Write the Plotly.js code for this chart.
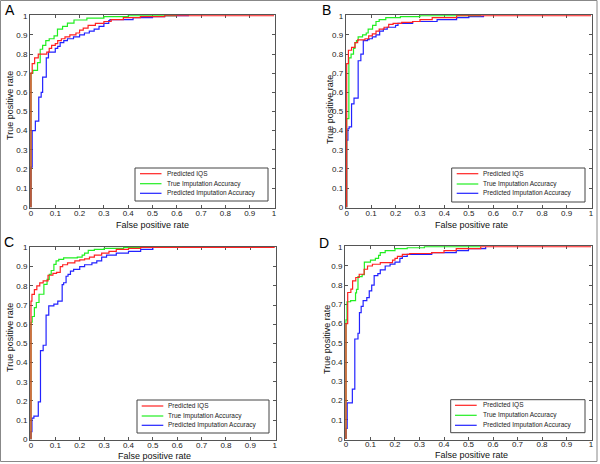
<!DOCTYPE html>
<html>
<head>
<meta charset="utf-8">
<script src="https://cdn.plot.ly/plotly-3.0.1.min.js"></script>
<style>
html,body{margin:0;padding:0;background:#fff;}
#chart{width:600px;height:464px;}
</style>
</head>
<body>
<div id="chart"></div>
<script>
// ---- data ----
const seriesNames = ['Predicted IQS', 'True Imputation Accuracy', 'Predicted Imputation Accuracy'];
const panelLabels = ['A', 'B', 'C', 'D'];
const xTitle = 'False positive rate';
const yTitle = 'True positive rate';

// Panel A
const fprA_iqs = [0, 0, 0.005, 0.015, 0.03, 0.065, 0.075, 0.085, 0.1, 0.11, 0.125, 0.14, 0.16, 0.185, 0.2, 0.215, 0.235, 0.265, 0.3, 0.33, 0.38, 0.45, 0.55, 1];
const tprA_iqs = [0, 0.70, 0.75, 0.78, 0.80, 0.81, 0.83, 0.845, 0.855, 0.87, 0.88, 0.89, 0.90, 0.91, 0.925, 0.935, 0.95, 0.96, 0.97, 0.98, 0.99, 0.995, 1.0, 1.0];
const fprA_true = [0, 0, 0.008, 0.027, 0.038, 0.048, 0.061, 0.075, 0.095, 0.109, 0.13, 0.15, 0.177, 0.23, 0.3, 0.4, 0.6];
const tprA_true = [0, 0.70, 0.715, 0.755, 0.825, 0.845, 0.87, 0.88, 0.895, 0.93, 0.945, 0.962, 0.978, 0.988, 0.995, 1.0, 1.0];
const fprA_pred = [0, 0, 0.005, 0.018, 0.032, 0.042, 0.048, 0.063, 0.072, 0.1, 0.11, 0.12, 0.135, 0.15, 0.175, 0.2, 0.22, 0.24, 0.26, 0.28, 0.3, 0.32, 0.325, 0.42, 0.5, 0.55, 0.65];
const tprA_pred = [0, 0.21, 0.40, 0.45, 0.575, 0.60, 0.68, 0.78, 0.81, 0.83, 0.84, 0.86, 0.87, 0.88, 0.89, 0.90, 0.91, 0.92, 0.93, 0.945, 0.96, 0.975, 0.98, 0.99, 0.995, 1.0, 1.0];

// Panel B
const fprB_iqs = [0, 0, 0.007, 0.02, 0.034, 0.045, 0.075, 0.09, 0.105, 0.12, 0.133, 0.153, 0.172, 0.19, 0.225, 0.27, 0.3, 0.35, 0.45, 1];
const tprB_iqs = [0, 0.75, 0.82, 0.835, 0.86, 0.874, 0.88, 0.895, 0.905, 0.92, 0.93, 0.94, 0.955, 0.96, 0.965, 0.97, 0.98, 0.99, 1.0, 1.0];
const fprB_true = [0, 0, 0.009, 0.018, 0.028, 0.034, 0.04, 0.047, 0.065, 0.08, 0.088, 0.106, 0.12, 0.133, 0.16, 0.22, 0.3, 0.55];
const tprB_true = [0, 0.463, 0.78, 0.80, 0.83, 0.86, 0.87, 0.89, 0.90, 0.91, 0.93, 0.95, 0.97, 0.98, 0.99, 0.995, 1.0, 1.0];
const fprB_pred = [0, 0, 0.005, 0.01, 0.02, 0.03, 0.047, 0.058, 0.068, 0.085, 0.092, 0.105, 0.12, 0.135, 0.15, 0.166, 0.2, 0.21, 0.27, 0.37, 0.45, 0.5, 0.56];
const tprB_pred = [0, 0.35, 0.41, 0.42, 0.54, 0.57, 0.765, 0.80, 0.87, 0.875, 0.88, 0.89, 0.90, 0.92, 0.93, 0.94, 0.95, 0.96, 0.97, 0.98, 0.99, 0.995, 1.0];

// Panel C
const fprC_iqs = [0, 0, 0.004, 0.014, 0.024, 0.036, 0.05, 0.07, 0.09, 0.105, 0.12, 0.13, 0.15, 0.18, 0.2, 0.22, 0.24, 0.26, 0.29, 0.32, 0.35, 0.4, 0.45, 1];
const tprC_iqs = [0, 0.72, 0.755, 0.78, 0.80, 0.815, 0.826, 0.855, 0.865, 0.87, 0.9, 0.91, 0.92, 0.93, 0.935, 0.94, 0.95, 0.96, 0.97, 0.98, 0.99, 0.995, 1, 1];
const fprC_true = [0, 0, 0.005, 0.014, 0.022, 0.033, 0.053, 0.066, 0.075, 0.083, 0.094, 0.103, 0.114, 0.134, 0.19, 0.21, 0.22, 0.235, 0.26, 0.3, 0.38, 0.62];
const tprC_true = [0, 0.61, 0.64, 0.686, 0.713, 0.756, 0.808, 0.834, 0.86, 0.88, 0.912, 0.93, 0.938, 0.946, 0.95, 0.96, 0.97, 0.985, 0.99, 0.995, 1.0, 1.0];
const fprC_pred = [0, 0, 0.004, 0.012, 0.03, 0.039, 0.05, 0.062, 0.073, 0.094, 0.11, 0.128, 0.134, 0.144, 0.152, 0.162, 0.175, 0.2, 0.22, 0.25, 0.27, 0.29, 0.31, 0.35, 0.4, 0.45, 0.5];
const tprC_pred = [0, 0.04, 0.11, 0.12, 0.195, 0.462, 0.49, 0.647, 0.695, 0.705, 0.72, 0.806, 0.816, 0.85, 0.86, 0.877, 0.886, 0.90, 0.91, 0.92, 0.93, 0.95, 0.96, 0.97, 0.98, 0.99, 1.0];

// Panel D
const fprD_iqs = [0, 0, 0.007, 0.02, 0.027, 0.04, 0.054, 0.074, 0.088, 0.108, 0.14, 0.19, 0.2, 0.21, 0.23, 0.26, 0.35, 0.4, 0.45, 0.55, 1];
const tprD_iqs = [0, 0.60, 0.762, 0.78, 0.823, 0.84, 0.857, 0.883, 0.90, 0.909, 0.917, 0.93, 0.94, 0.95, 0.96, 0.965, 0.97, 0.98, 0.99, 1.0, 1.0];
const fprD_true = [0, 0, 0.004, 0.019, 0.039, 0.043, 0.049, 0.066, 0.075, 0.1, 0.12, 0.133, 0.14, 0.16, 0.2, 0.25, 0.32, 0.55];
const tprD_true = [0, 0.62, 0.714, 0.72, 0.76, 0.778, 0.845, 0.855, 0.92, 0.93, 0.94, 0.955, 0.97, 0.98, 0.99, 0.995, 1.0, 1.0];
const fprD_pred = [0, 0, 0.005, 0.026, 0.036, 0.049, 0.055, 0.062, 0.07, 0.085, 0.095, 0.105, 0.115, 0.13, 0.14, 0.16, 0.18, 0.2, 0.22, 0.23, 0.25, 0.35, 0.45, 0.5, 0.57];
const tprD_pred = [0, 0.055, 0.188, 0.259, 0.52, 0.55, 0.657, 0.69, 0.72, 0.735, 0.77, 0.80, 0.85, 0.86, 0.88, 0.90, 0.91, 0.92, 0.94, 0.95, 0.96, 0.97, 0.98, 0.99, 1.0];

// ---- layout geometry (pixels in the 600x464 page) ----
const W = 600, H = 464;
const px = v => v / W;
const py = v => 1 - v / H;
const FONT = 'Liberation Sans, Arial, Helvetica, sans-serif';
const colors = ['#ff2222', '#22ee22', '#2222ff'];

const panels = [
  {l: 30,    r: 275,   t: 15,    b: 208,   lab: [9.5, 10],  yt: [10, 106],  xt: [152, 225],  leg: {x0: 135, x1: 268, y0: 168, y1: 201, lx0: 140, lx1: 161.5, tx: 164.5, rows: [173.7, 183.7, 193.3]}},
  {l: 345.7, r: 592,   t: 15,    b: 208,   lab: [326, 10],  yt: [330, 110], xt: [471, 225],  leg: {x0: 451.7, x1: 585, y0: 168, y1: 202, lx0: 456.7, lx1: 478.3, tx: 480.5, rows: [173.7, 184, 193.3]}},
  {l: 30,    r: 275.7, t: 246.7, b: 440,   lab: [9, 242],   yt: [10, 338],  xt: [154.5, 456], leg: {x0: 137, x1: 269, y0: 400, y1: 433, lx0: 141.7, lx1: 163.3, tx: 166, rows: [406, 416, 425.3]}},
  {l: 345,   r: 592,   t: 246,   b: 439.7, lab: [323.5, 243], yt: [327, 340], xt: [471.5, 455], leg: {x0: 450.7, x1: 585, y0: 399.7, y1: 432.7, lx0: 455, lx1: 476.7, tx: 480.5, rows: [405.3, 415.3, 425.3]}}
];

const fprs = [[fprA_iqs, fprA_true, fprA_pred], [fprB_iqs, fprB_true, fprB_pred], [fprC_iqs, fprC_true, fprC_pred], [fprD_iqs, fprD_true, fprD_pred]];
const tprs = [[tprA_iqs, tprA_true, tprA_pred], [tprB_iqs, tprB_true, tprB_pred], [tprC_iqs, tprC_true, tprC_pred], [tprD_iqs, tprD_true, tprD_pred]];

const traces = [];
const layout = {
  width: W, height: H,
  margin: {l: 0, r: 0, t: 0, b: 0, pad: 0},
  paper_bgcolor: '#fff', plot_bgcolor: '#fff',
  showlegend: false,
  shapes: [], annotations: []
};

function axisCommon() {
  return {
    range: [-0.004, 1.004], tick0: 0, dtick: 0.1,
    ticks: 'inside', ticklen: 3, tickwidth: 1, tickcolor: '#555',
    showline: true, linecolor: '#555', linewidth: 1, mirror: 'ticks',
    showgrid: false, zeroline: false, fixedrange: true,
    tickfont: {family: FONT, size: 8, color: '#222'},
    layer: 'below traces'
  };
}

panels.forEach((p, i) => {
  const n = i === 0 ? '' : String(i + 1);
  const xa = 'x' + n, ya = 'y' + n;
  layout['xaxis' + n] = Object.assign(axisCommon(), {domain: [px(p.l), px(p.r)], anchor: ya, ticklabelstandoff: -3});
  layout['yaxis' + n] = Object.assign(axisCommon(), {domain: [py(p.b), py(p.t)], anchor: xa, ticklabelstandoff: 0});
  // draw order: blue, green, red (red on top)
  [2, 1, 0].forEach(k => {
    traces.push({
      x: fprs[i][k], y: tprs[i][k], type: 'scatter', mode: 'lines',
      line: {color: colors[k], width: 1.2, shape: 'hv'},
      name: seriesNames[k], xaxis: xa, yaxis: ya, hoverinfo: 'skip'
    });
  });
  // panel label
  layout.annotations.push({text: panelLabels[i], x: px(p.lab[0]), y: py(p.lab[1]), xref: 'paper', yref: 'paper',
    showarrow: false, xanchor: 'center', yanchor: 'middle', font: {family: FONT, size: 14, color: '#000'}});
  // axis titles
  layout.annotations.push({text: xTitle, x: px(p.xt[0]), y: py(p.xt[1]), xref: 'paper', yref: 'paper',
    showarrow: false, xanchor: 'center', yanchor: 'middle', font: {family: FONT, size: 9, color: '#111'}});
  layout.annotations.push({text: yTitle, x: px(p.yt[0]), y: py(p.yt[1]), xref: 'paper', yref: 'paper', textangle: -90,
    showarrow: false, xanchor: 'center', yanchor: 'middle', font: {family: FONT, size: 9, color: '#111'}});
  // legend box
  const L = p.leg;
  layout.shapes.push({type: 'rect', xref: 'paper', yref: 'paper', x0: px(L.x0), x1: px(L.x1), y0: py(L.y1), y1: py(L.y0),
    line: {color: '#444', width: 1}, fillcolor: '#fff', layer: 'above'});
  seriesNames.forEach((nm, k) => {
    layout.shapes.push({type: 'line', xref: 'paper', yref: 'paper', x0: px(L.lx0), x1: px(L.lx1), y0: py(L.rows[k]), y1: py(L.rows[k]),
      line: {color: colors[k], width: 1.2}, layer: 'above'});
    layout.annotations.push({text: nm, x: px(L.tx), y: py(L.rows[k]), xref: 'paper', yref: 'paper',
      showarrow: false, xanchor: 'left', yanchor: 'middle', font: {family: FONT, size: 6.5, color: '#222'}});
  });
});

// outer frame
layout.shapes.push({type: 'rect', xref: 'paper', yref: 'paper', x0: px(0.5), x1: px(597), y0: py(461.5), y1: py(0.5),
  line: {color: '#888', width: 1}, fillcolor: 'rgba(0,0,0,0)', layer: 'above'});

Plotly.newPlot('chart', traces, layout, {staticPlot: true, displayModeBar: false});
</script>
</body>
</html>
